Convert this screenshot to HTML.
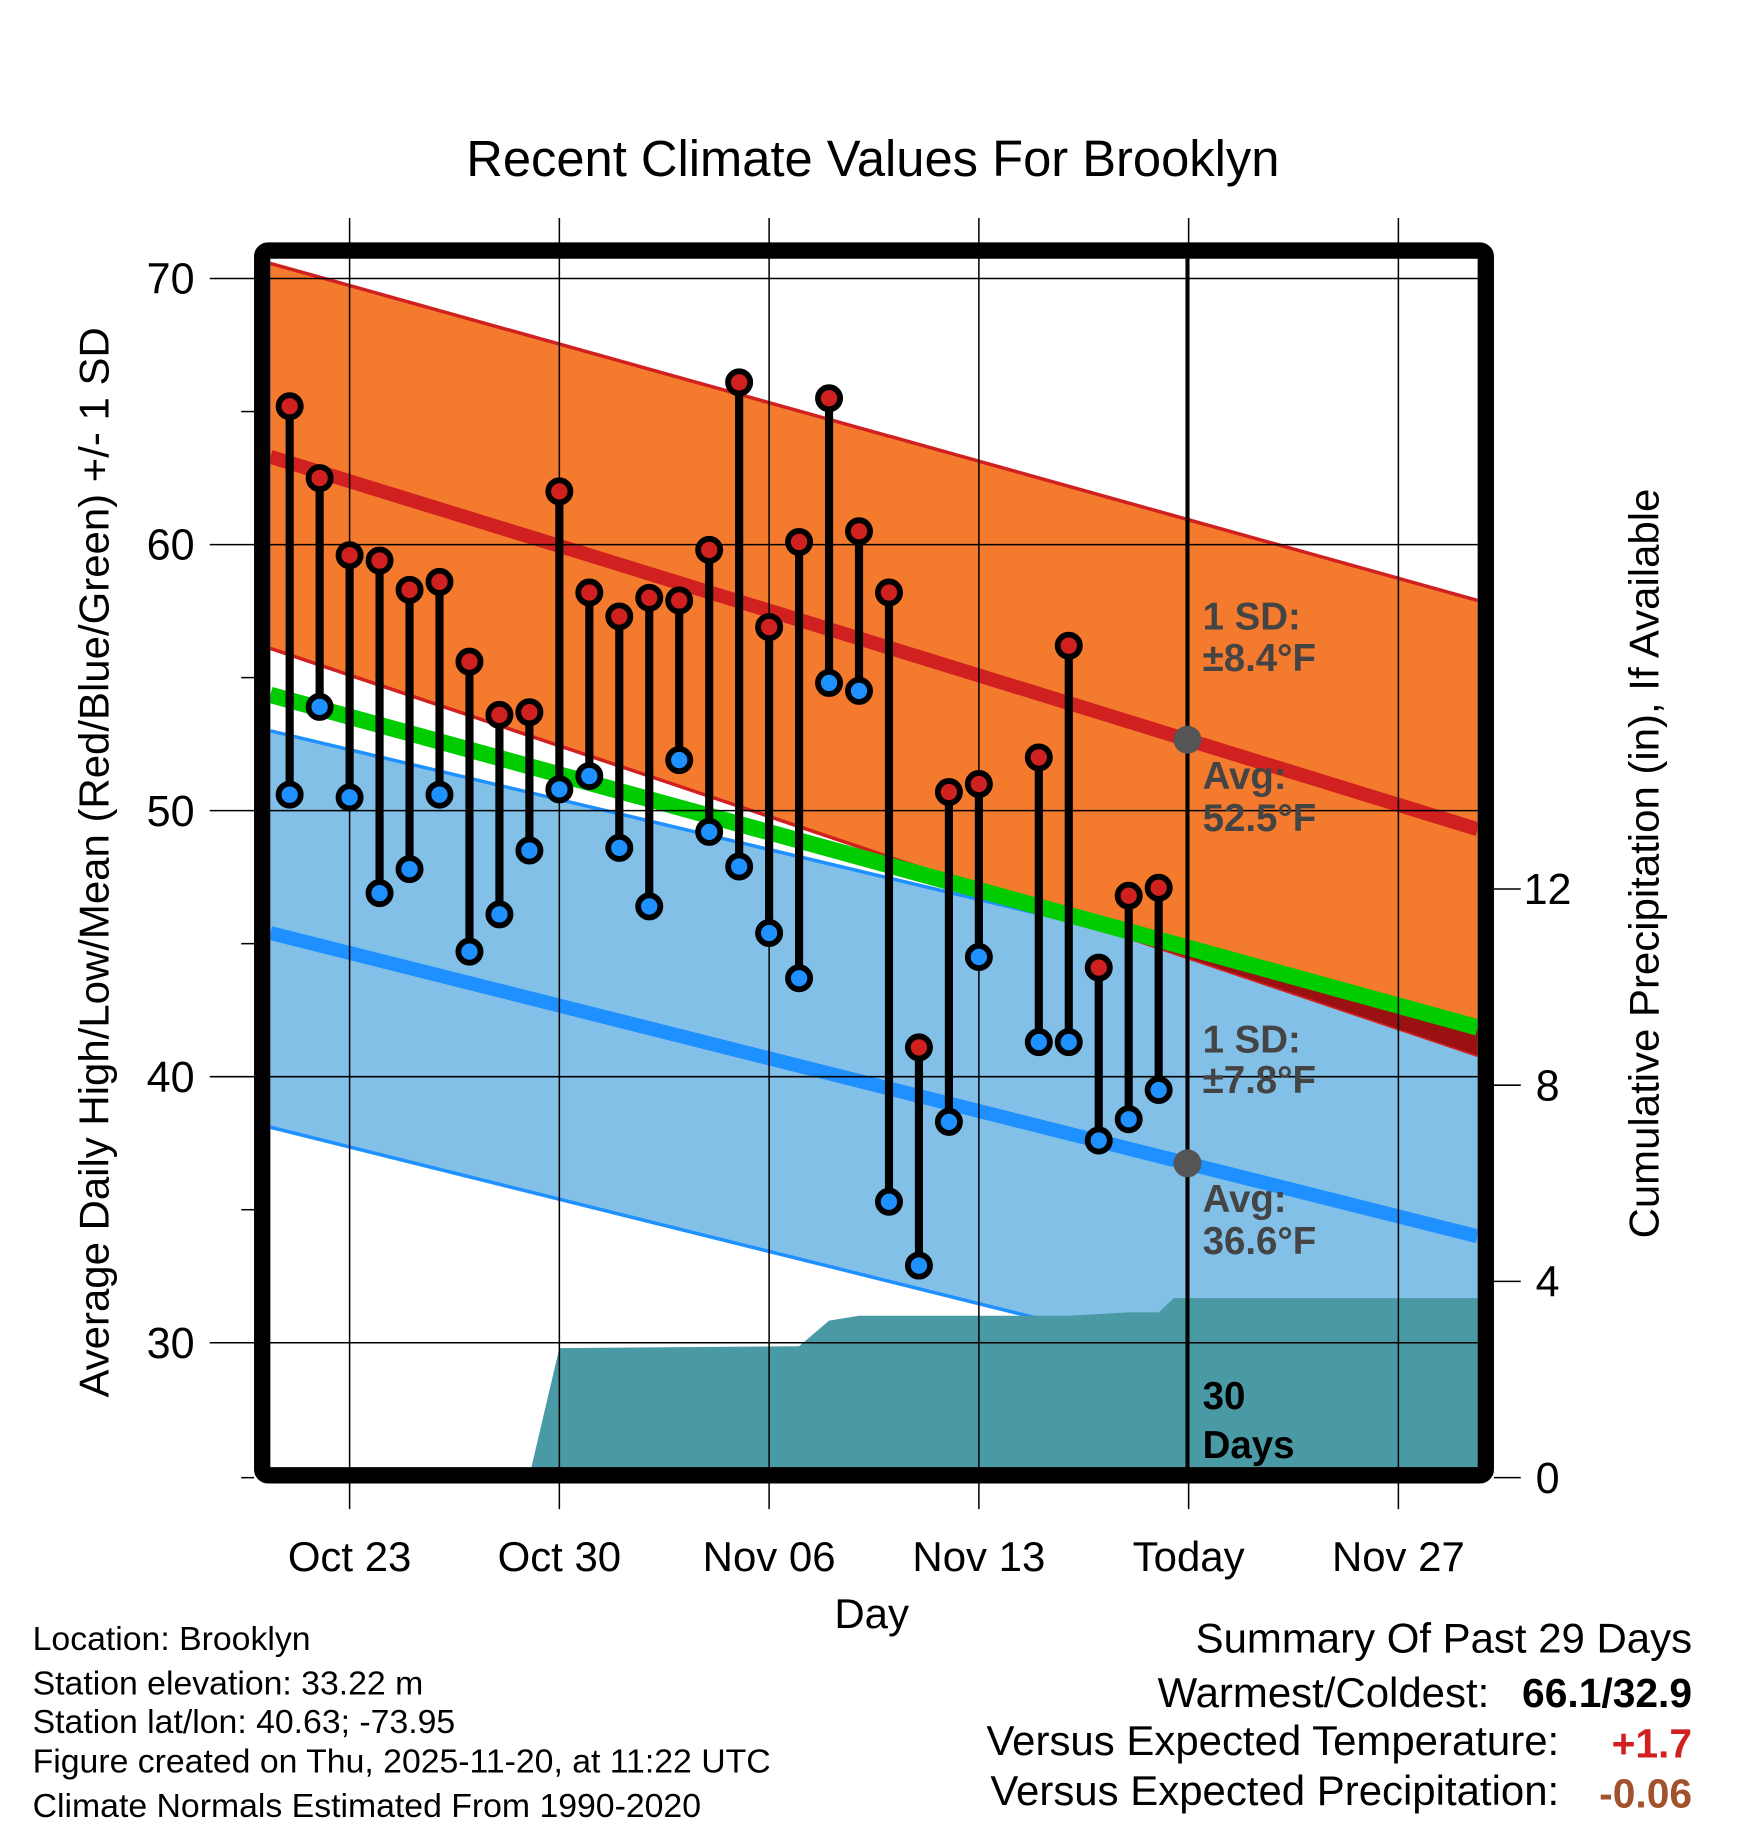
<!DOCTYPE html>
<html><head><meta charset="utf-8"><style>html,body{margin:0;padding:0;background:#fff}svg{display:block}text{font-family:"Liberation Sans",sans-serif}</style></head>
<body>
<svg id="chart" width="1748" height="1828" viewBox="0 0 1500 1568.6" xmlns="http://www.w3.org/2000/svg">
</svg>
<script>
const dayLabels = ["Oct 23","Oct 30","Nov 06","Nov 13","Today","Nov 27"];
const dayTicks = [0,7,14,21,28,35];
const tempTicks = [70,60,50,40,30];
const precipTicks = [0,4,8,12];
const obsDays = [-2,-1,0,1,2,3,4,5,6,7,8,9,10,11,12,13,14,15,16,17,18,19,20,21,23,24,25,26,27];
const highs = [65.2,62.5,59.6,59.4,58.3,58.6,55.6,53.6,53.7,62.0,58.2,57.3,58.0,57.9,59.8,66.1,56.9,60.1,65.5,60.5,58.2,41.1,50.7,51.0,52.0,56.2,44.1,46.8,47.1];
const lows  = [50.6,53.9,50.5,46.9,47.8,50.6,44.7,46.1,48.5,50.8,51.3,48.6,46.4,51.9,49.2,47.9,45.4,43.7,54.8,54.5,35.3,32.9,38.3,44.5,41.3,41.3,37.6,38.4,39.5];
const precipDays = [-2.65,-1,6,7,15,16,17,24,26,27,27.5,37.65];
const precipVals = [0,0.04,0.04,2.64,2.68,3.2,3.3,3.3,3.37,3.37,3.66,3.66];
const edgeDays = [-2.65,37.65];
const normHigh = [63.3,49.3];
const normHighUp = [70.57,57.9];
const normHighLo = [56.1,40.8];
const normLow = [45.4,34.0];
const normLowUp = [53.0,42.2];
const normLowLo = [38.1,26.8];
const normMean = [54.35,41.85];

const NS="http://www.w3.org/2000/svg";
const svg=document.getElementById('chart');
const L=232,R=1268,T=222,B=1260;
const X=d=>300+d*25.714;
const Y=t=>239+(70-t)*22.83;
const PY=p=>1268-p*42.1;
function mk(tag,attrs,parent){const e=document.createElementNS(NS,tag);for(const k in attrs)e.setAttribute(k,attrs[k]);(parent||svg).appendChild(e);return e;}
function txt(s,attrs){const e=mk('text',attrs);e.textContent=s;return e;}
const lerp=(arr,t)=>arr[0]+(arr[1]-arr[0])*t;
const pt=(arr,t)=>[L+(R-L)*t,Y(lerp(arr,t))];

const defs=mk('defs',{});const cp=mk('clipPath',{id:'pc'},defs);mk('rect',{x:L,y:T,width:R-L,height:B-T},cp);
const plot=mk('g',{'clip-path':'url(#pc)'});

function band(up,lo,fill,name){
  const p=[pt(up,0),pt(up,1),pt(lo,1),pt(lo,0)].map(a=>a.join(',')).join(' ');
  const e=mk('polygon',{points:p,fill:fill},plot);
  
  
}
function line(arr,color,w,name){
  const a=pt(arr,0),b=pt(arr,1);
  const e=mk('line',{x1:a[0],y1:a[1],x2:b[0],y2:b[1],stroke:color,'stroke-width':w},plot);
  
  
}
band(normLowUp,normLowLo,'#82c0e8','low-sd-band');
line(normLowUp,'#1e90ff',3,'low-sd-upper');
line(normLowLo,'#1e90ff',3,'low-sd-lower');
band(normHighUp,normHighLo,'#f47a2e','high-sd-band');
line(normHighUp,'#d02020',3,'high-sd-upper');
line(normHighLo,'#d02020',3,'high-sd-lower');
{
  const d0=normMean[0]-normHighLo[0], d1=normMean[1]-normHighLo[1];
  const tc=d0/(d0-d1);
  const p=[pt(normMean,tc),pt(normMean,1),pt(normHighLo,1)].map(a=>a.join(',')).join(' ');
  const e=mk('polygon',{points:p,fill:'#9b1111'},plot);
  
  
}
line(normMean,'#00cc00',14,'mean-normal-line');
line(normHigh,'#d02020',12,'high-normal-line');
line(normLow,'#1e90ff',12,'low-normal-line');

{
  let pts=[[X(precipDays[0]),B+5]];
  for(let i=0;i<precipDays.length;i++)pts.push([X(precipDays[i]),PY(precipVals[i])]);
  pts.push([X(precipDays[precipDays.length-1]),B+5]);
  const e=mk('polygon',{points:pts.map(a=>a.join(',')).join(' '),fill:'#4a9aa5'},plot);
  
  
}

tempTicks.forEach(t=>{
  const e=mk('line',{x1:180,x2:R,y1:Y(t),y2:Y(t),stroke:'#000','stroke-width':1.3});
  
  
  const l=txt(String(t),{x:167,y:Y(t)+13,'font-size':37,'text-anchor':'end'});
  
  
});
[65,55,45,35].forEach(t=>{mk('line',{x1:207,x2:218,y1:Y(t),y2:Y(t),stroke:'#000','stroke-width':1.3});});
mk('line',{x1:207,x2:218,y1:1268,y2:1268,stroke:'#000','stroke-width':1.3});
dayTicks.forEach((d,i)=>{
  const e=mk('line',{x1:X(d),x2:X(d),y1:187,y2:1295,stroke:'#000','stroke-width':1.3});
  
  
  const l=txt(dayLabels[i],{x:X(d),y:1348,'font-size':36,'text-anchor':'middle'});
  
  
});
precipTicks.forEach(p=>{
  mk('line',{x1:1282,x2:1305,y1:PY(p),y2:PY(p),stroke:'#000','stroke-width':1.3});
  const l=txt(String(p),{x:1328,y:PY(p)+13,'font-size':37,'text-anchor':'middle'});
  
  
});

{const e=mk('line',{x1:1019,x2:1019,y1:T,y2:B,stroke:'#000','stroke-width':3.5});
}
{const e=mk('circle',{cx:1019,cy:Y(lerp(normHigh,(1019-L)/(R-L))),r:12,fill:'#555'});
}
{const e=mk('circle',{cx:1019,cy:Y(lerp(normLow,(1019-L)/(R-L))),r:12,fill:'#555'});
}

obsDays.forEach((d,i)=>{
  const x=X(d);
  const s=mk('line',{x1:x,x2:x,y1:Y(highs[i]),y2:Y(lows[i]),stroke:'#000','stroke-width':7});
  
  
  const h=mk('circle',{cx:x,cy:Y(highs[i]),r:9.5,fill:'#d02020',stroke:'#000','stroke-width':5});
  
  
  const lo=mk('circle',{cx:x,cy:Y(lows[i]),r:9.5,fill:'#1e90ff',stroke:'#000','stroke-width':5});
  
  
});

{const e=mk('rect',{x:225,y:215,width:1050,height:1051,fill:'none',stroke:'#000','stroke-width':14,rx:5});
}

const ann=[["1 SD:",540,'#444'],["±8.4°F",576,'#444'],["Avg:",677,'#444'],["52.5°F",713,'#444'],["1 SD:",903,'#444'],["±7.8°F",938,'#444'],["Avg:",1040,'#444'],["36.6°F",1076,'#444'],["30",1209,'#000'],["Days",1251,'#000']];
ann.forEach(a=>{const e=txt(a[0],{x:1032,y:a[1],'font-size':33,'font-weight':'bold',fill:a[2]});
});

{const e=txt("Recent Climate Values For Brooklyn",{x:749,y:151,'font-size':43.5,'text-anchor':'middle'});}
{const e=txt("Day",{x:748,y:1397,'font-size':36,'text-anchor':'middle'});}
{const e=txt("Average Daily High/Low/Mean (Red/Blue/Green) +/- 1 SD",{x:0,y:0,'font-size':36,'text-anchor':'middle',transform:'translate(93,740) rotate(-90)'});}
{const e=txt("Cumulative Precipitation (in), If Available",{x:0,y:0,'font-size':36,'text-anchor':'middle',transform:'translate(1423,741) rotate(-90)'});}

const foot=[["Location: Brooklyn",1416],["Station elevation: 33.22 m",1454],["Station lat/lon: 40.63; -73.95",1487],["Figure created on Thu, 2025-11-20, at 11:22 UTC",1521],["Climate Normals Estimated From 1990-2020",1559]];
foot.forEach(f=>{const e=txt(f[0],{x:28,y:f[1],'font-size':29});});

{const e=txt("Summary Of Past 29 Days",{x:1452,y:1418,'font-size':36,'text-anchor':'end'});}
{const e=txt("Warmest/Coldest:",{x:1278,y:1465,'font-size':36,'text-anchor':'end'});}
{const e=txt("66.1/32.9",{x:1452,y:1465,'font-size':35,'font-weight':'bold','text-anchor':'end'});}
{const e=txt("Versus Expected Temperature:",{x:1338,y:1506,'font-size':36,'text-anchor':'end'});}
{const e=txt("+1.7",{x:1452,y:1508,'font-size':35,'font-weight':'bold','text-anchor':'end',fill:'#d02020'});}
{const e=txt("Versus Expected Precipitation:",{x:1338,y:1549,'font-size':36,'text-anchor':'end'});}
{const e=txt("-0.06",{x:1452,y:1551,'font-size':35,'font-weight':'bold','text-anchor':'end',fill:'#a0522d'});}
</script>
</body></html>
